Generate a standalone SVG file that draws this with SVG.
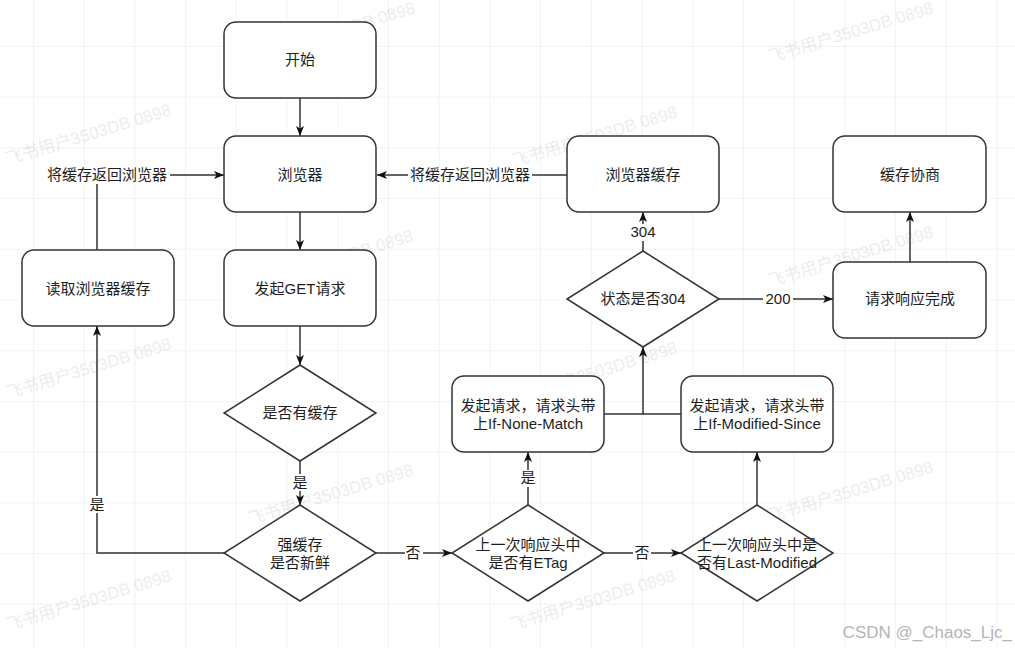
<svg xmlns="http://www.w3.org/2000/svg" width="1015" height="648" viewBox="0 0 1015 648">
<style>
.node{fill:#fff;stroke:#333;stroke-width:1.5}
.t{font-family:"Liberation Sans","Noto Sans CJK SC",sans-serif;font-size:15px;fill:#1e1e1e;text-anchor:middle}
.e{fill:none;stroke:#333;stroke-width:1.5}
.lb{fill:#fff}
.wm{font-family:"Liberation Sans","Noto Sans CJK SC",sans-serif;font-size:17px;fill:#000;opacity:0.07;text-anchor:middle}
</style>
<defs>
<pattern id="grid" patternUnits="userSpaceOnUse" x="33" y="-4.7" width="50.7" height="50.7">
<path d="M0,0 H50.7 M0,0 V50.7" fill="none" stroke="#e6e6e6" stroke-width="1"/>
</pattern>
<marker id="arr" markerUnits="userSpaceOnUse" viewBox="0 0 10 8" refX="10" refY="4" markerWidth="10" markerHeight="8" orient="auto">
<path d="M0,0 L10,4 L0,8 L2.5,4 Z" fill="#111"/>
</marker>
</defs>
<rect width="1015" height="648" fill="#fff"/>
<rect width="1015" height="648" fill="url(#grid)"/>
<g id="watermarks">
<text class="wm" transform="translate(334,38) rotate(-17)">飞书用户3503DB 0898</text>
<text class="wm" transform="translate(852,38) rotate(-17)">飞书用户3503DB 0898</text>
<text class="wm" transform="translate(90,140) rotate(-17)">飞书用户3503DB 0898</text>
<text class="wm" transform="translate(596,142) rotate(-17)">飞书用户3503DB 0898</text>
<text class="wm" transform="translate(332,266) rotate(-17)">飞书用户3503DB 0898</text>
<text class="wm" transform="translate(852,262) rotate(-17)">飞书用户3503DB 0898</text>
<text class="wm" transform="translate(90,374) rotate(-17)">飞书用户3503DB 0898</text>
<text class="wm" transform="translate(596,378) rotate(-17)">飞书用户3503DB 0898</text>
<text class="wm" transform="translate(332,500) rotate(-17)">飞书用户3503DB 0898</text>
<text class="wm" transform="translate(852,497) rotate(-17)">飞书用户3503DB 0898</text>
<text class="wm" transform="translate(90,606) rotate(-17)">飞书用户3503DB 0898</text>
<text class="wm" transform="translate(594,606) rotate(-17)">飞书用户3503DB 0898</text>
</g>
<g id="connectors">
<path class="e" d="M300,98 V136" marker-end="url(#arr)"/>
<path class="e" d="M300,212 V250" marker-end="url(#arr)"/>
<path class="e" d="M300,326 V365" marker-end="url(#arr)"/>
<path class="e" d="M300,461 V505" marker-end="url(#arr)"/>
<path class="e" d="M224,553 H97 V326" marker-end="url(#arr)"/>
<path class="e" d="M97,250 V175 H224" marker-end="url(#arr)"/>
<path class="e" d="M376,553 H452" marker-end="url(#arr)"/>
<path class="e" d="M604,553 H681" marker-end="url(#arr)"/>
<path class="e" d="M528,505 V452" marker-end="url(#arr)"/>
<path class="e" d="M757,505 V452" marker-end="url(#arr)"/>
<path class="e" d="M604,414 H643 V347" marker-end="url(#arr)"/>
<path class="e" d="M681,414 H643"/>
<path class="e" d="M643,251 V212" marker-end="url(#arr)"/>
<path class="e" d="M719,299 H833" marker-end="url(#arr)"/>
<path class="e" d="M910,262 V212" marker-end="url(#arr)"/>
<path class="e" d="M567,175 H377" marker-end="url(#arr)"/>
<rect class="lb" x="291" y="474" width="18" height="17"/>
<text class="t" x="300" y="488">是</text>
<rect class="lb" x="88" y="496" width="18" height="17"/>
<text class="t" x="97" y="510">是</text>
<rect class="lb" x="44" y="166" width="126" height="18"/>
<text class="t" x="107" y="180">将缓存返回浏览器</text>
<rect class="lb" x="405" y="545" width="18" height="17"/>
<text class="t" x="413" y="558">否</text>
<rect class="lb" x="633" y="545" width="18" height="17"/>
<text class="t" x="642" y="558">否</text>
<rect class="lb" x="519" y="470" width="18" height="17"/>
<text class="t" x="528" y="483">是</text>
<rect class="lb" x="629" y="224" width="28" height="17"/>
<text class="t" x="643" y="237">304</text>
<rect class="lb" x="763" y="291" width="30" height="17"/>
<text class="t" x="778" y="304">200</text>
<rect class="lb" x="408" y="166" width="124" height="18"/>
<text class="t" x="470" y="180">将缓存返回浏览器</text>
</g>
<g id="n-start">
<rect class="node" x="224" y="22" width="152" height="76" rx="12"/>
<text class="t" x="300" y="65">开始</text>
</g>
<g id="n-browser">
<rect class="node" x="224" y="136" width="152" height="76" rx="12"/>
<text class="t" x="300" y="180">浏览器</text>
</g>
<g id="n-get">
<rect class="node" x="224" y="250" width="152" height="76" rx="12"/>
<text class="t" x="300" y="294">发起GET请求</text>
</g>
<g id="n-read">
<rect class="node" x="22" y="250" width="152" height="76" rx="12"/>
<text class="t" x="98" y="294">读取浏览器缓存</text>
</g>
<g id="n-hascache">
<path class="node" d="M300,365 L376,413 L300,461 L224,413 Z"/>
<text class="t" x="300" y="418">是否有缓存</text>
</g>
<g id="n-fresh">
<path class="node" d="M300,505 L376,553 L300,601 L224,553 Z"/>
<text class="t" x="300" y="550">强缓存</text>
<text class="t" x="300" y="568">是否新鲜</text>
</g>
<g id="n-etag">
<path class="node" d="M528,505 L604,553 L528,601 L452,553 Z"/>
<text class="t" x="528" y="550">上一次响应头中</text>
<text class="t" x="528" y="568">是否有ETag</text>
</g>
<g id="n-lastmod">
<path class="node" d="M757,505 L833,553 L757,601 L681,553 Z"/>
<text class="t" x="757" y="550">上一次响应头中是</text>
<text class="t" x="757" y="568">否有Last-Modified</text>
</g>
<g id="n-inm">
<rect class="node" x="452" y="376" width="152" height="76" rx="12"/>
<text class="t" x="528" y="411">发起请求，请求头带</text>
<text class="t" x="528" y="429">上If-None-Match</text>
</g>
<g id="n-ims">
<rect class="node" x="681" y="376" width="152" height="76" rx="12"/>
<text class="t" x="757" y="411">发起请求，请求头带</text>
<text class="t" x="757" y="429">上If-Modified-Since</text>
</g>
<g id="n-304">
<path class="node" d="M643,251 L719,299 L643,347 L567,299 Z"/>
<text class="t" x="643" y="304">状态是否304</text>
</g>
<g id="n-bcache">
<rect class="node" x="567" y="136" width="152" height="76" rx="12"/>
<text class="t" x="643" y="180">浏览器缓存</text>
</g>
<g id="n-done">
<rect class="node" x="833" y="262" width="153" height="76" rx="12"/>
<text class="t" x="910" y="304">请求响应完成</text>
</g>
<g id="n-nego">
<rect class="node" x="833" y="136" width="153" height="76" rx="12"/>
<text class="t" x="910" y="180">缓存协商</text>
</g>
<text x="1012" y="638" font-family="Liberation Sans, sans-serif" font-size="17" fill="#b5b5b5" text-anchor="end">CSDN @_Chaos_Ljc_</text>
</svg>
